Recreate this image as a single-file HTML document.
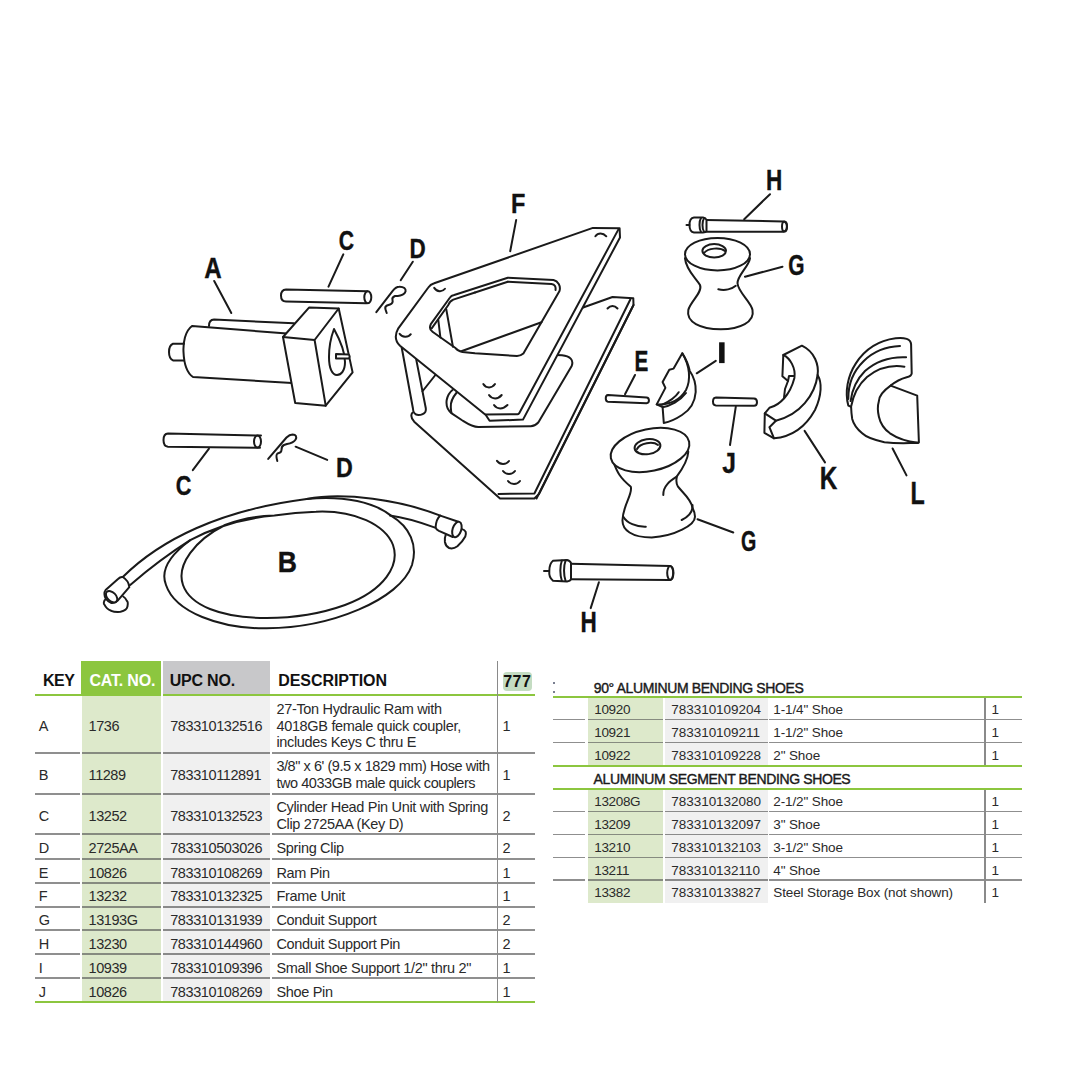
<!DOCTYPE html>
<html><head><meta charset="utf-8"><style>
html,body{margin:0;padding:0;background:#fff;}
body{width:1080px;height:1080px;position:relative;overflow:hidden;font-family:"Liberation Sans",sans-serif;}
div{position:absolute;}
.t{white-space:nowrap;}
svg{position:absolute;left:0;top:0;}
</style></head><body>
<svg width="1080" height="650" viewBox="0 0 1080 650">
<g fill="none" stroke="#1a1a1a" stroke-width="2" stroke-linejoin="round" stroke-linecap="round">
<line x1="214.2" y1="281" x2="231.3" y2="313"/>
<line x1="343.3" y1="254.3" x2="328.5" y2="286.7"/>
<line x1="412.8" y1="261.7" x2="400.7" y2="280.2"/>
<line x1="516.2" y1="219.9" x2="510.2" y2="251.2"/>
<line x1="770" y1="194.2" x2="744.2" y2="219.2"/>
<line x1="782.5" y1="266.7" x2="745" y2="276.7"/>
<line x1="635" y1="375" x2="625" y2="394.2"/>
<line x1="715.8" y1="360.8" x2="696.7" y2="373.3"/>
<line x1="735.8" y1="406.7" x2="730" y2="445"/>
<line x1="804.6" y1="430.9" x2="825" y2="462.4"/>
<line x1="892.6" y1="448.5" x2="906.5" y2="475.4"/>
<line x1="697.5" y1="519.2" x2="733.3" y2="532.5"/>
<line x1="598.9" y1="582.2" x2="590.7" y2="608.1"/>
<line x1="209" y1="448.7" x2="192.8" y2="470.1"/>
<line x1="295.6" y1="446.7" x2="327.2" y2="459.9"/>
<path d="M 122.8,577 C 160,540 220,510 306.7,498.9 C 345,495 375,503 391,515.6 C 410,527 418,545 412,565 C 400,600 330,628 266.7,628.3 C 220,629 175,612 166,585 C 160,570 170,555 190.2,540.2" fill="none"/>
<path d="M 130.2,584.9 C 150,568 170,553 190.2,540.2 C 215,527 245,518 274.4,515.6 C 290,513 300,512 316,511.7 C 355,510 385,525 393,545 C 400,565 385,590 345,605 C 320,614 290,618 266.7,618 C 220,618 190,605 183,585 C 176,565 195,540 225,525 C 240,519 258,516 274.4,515.6" fill="none"/>
<path d="M 306.7,498.9 C 345,492 400,500 440.3,515.6" fill="none"/>
<path d="M 390,515.6 C 408,518 422,523 435.2,527.7" fill="none"/>
<path d="M 122.8,577 C 121,576.5 120,577 118,579 L 105.6,590 C 104,592 104,596 106,599 C 109,603 113,605 118.1,600.2 L 129.3,587.2 C 129,583 126,579 122.8,577 Z" fill="#fff"/>
<ellipse cx="111.6" cy="596.7" rx="6.8" ry="4.3" transform="rotate(45 111.6 596.7)" fill="#fff"/>
<path d="M 105.6,599.3 C 103.5,601 103.5,604 104.3,604.4 C 106,608 109,610 111.2,610.8 C 114,612 118,612 120.5,611.8 C 124,611 127,609 127.4,606.7 C 128,604 128,602 127,601.1 C 126,599 125,597.5 123.2,596.5" fill="none"/>
<path d="M 440.3,515.6 C 437.5,518 436,522 435.6,527.2 C 436,529 437,530 438.9,530.9 L 452.8,537 L 458.3,521.7 Z" fill="#fff"/>
<ellipse cx="456.9" cy="529.5" rx="4.3" ry="8" transform="rotate(18 456.9 529.5)" fill="#fff"/>
<path d="M 445.8,534.6 C 444.8,537 444.6,540 444.9,542 C 445.5,545 447,547 449.1,548 C 452,549 455,548 457.4,546.2 C 461,543 464,539 465.3,536.5 C 466,534.5 466,533 465.7,531.9 C 465,530.5 463.5,529.5 462,529.1" fill="none"/>
<path d="M 294,323.3 L 214,319.6 C 210,319.8 209,322 209,326" fill="none"/>
<path d="M 287,333.5 L 192,326 C 185,331 183,343 183.5,352 C 184,364 187,373 193,377 L 292,383" fill="#fff"/>
<path d="M 184,343.7 L 173,343.7 C 169.5,345 169,349 169,352 C 169,356 170,359 173,360.4 L 184,360.4" fill="none"/>
<path d="M 283,337 L 309,307.6 L 338.7,308.5 L 352.6,372.4 L 325.7,405.7 L 295.2,403 Z" fill="#fff"/>
<path d="M 283,337 L 314.6,340 L 338.7,308.5 M 314.6,340 L 325.7,405.7" fill="none"/>
<path d="M 334,329 C 340,340 345,353 345,362 C 345,371 341,375 337,375 C 332,375 329,368 329,357 C 329,346 331,337 334,329 Z" fill="none"/>
<path d="M 336,354 L 348.5,354.5 C 350,355.5 350,357.5 348.5,358.5 L 336,358.5 Z" fill="#fff"/>
<path d="M 367.4,291.3 L 286,289.4 C 282,289.6 281,292 281,295.5 C 281,299 282,301.5 286,301.6 L 366.5,303.3" fill="none"/>
<ellipse cx="367.8" cy="297.3" rx="3.5" ry="6" transform="rotate(0 367.8 297.3)" fill="none"/>
<path d="M 376.3,312.1 L 392.7,290.8 C 395,288 397,286.7 399.2,286.7 C 404,286.5 406,289 405.6,291.3 C 405,294 401,295.9 397.8,295.9 L 395,296 C 392.5,297 392,298.5 392.5,300 C 393,302 393,303.5 390,304.5 L 387,305.5 C 385,306.5 385,308 385.5,309.5 L 386.7,313" fill="none"/>
<path d="M 261,435.6 L 168,433.4 C 164.5,433.6 163.5,436 163.5,440 C 163.5,444 164.5,446.5 168,446.7 L 260,447.8" fill="none"/>
<ellipse cx="257.5" cy="441.6" rx="3.5" ry="6" transform="rotate(0 257.5 441.6)" fill="none"/>
<path d="M 268.2,458.9 L 286.5,437.5 C 289,435 291,434.4 292.6,434.4 C 296,434.5 297,437 295.6,439.5 C 294,442 290,443.5 287,444 L 284,445 C 281.5,446 281.5,448 281.5,450 C 281.5,452 280,453 277.5,453.5 C 276,454.5 276,456.5 277.3,461" fill="none"/>
<path d="M 582.4,307.8 L 612.5,297 L 633.3,298.3 L 633.5,305 L 539,494 L 534.4,498.5 L 500,498.5 L 414.2,421.7 C 411,418 410.5,415 412.5,412.5" fill="#fff"/>
<path d="M 630.3,299.5 L 534.4,493.5 L 498.5,494" fill="none"/>
<path d="M 633.5,305 L 536.5,498.5" fill="none"/>
<path d="M 497,460.8 C 500,465 506,465 509,461" fill="none"/>
<path d="M 503,471 C 506,475 512,475 515,471" fill="none"/>
<path d="M 508,481 C 511,485 517,485 520,481" fill="none"/>
<path d="M 556,355 L 562,355.3 C 570,356 574,360 571.7,366 L 538.3,422.5 C 535,426 532,426.3 530.8,426.3 L 478.3,427 C 472,427 468,424 461.7,420 L 451.7,413.3 C 447,410 446,405 446.7,400 C 447.5,396 450,392 452.5,390" fill="#fff"/>
<path d="M 456.7,392.5 C 453,397 450.5,403 450.8,407 C 451,410 451,411.5 451.5,413" fill="none"/>
<path d="M 401.7,347.5 L 412.9,408.3 C 413,412 415,415 418.3,415 C 421,415 424,414 425.4,411.7 C 426,410.5 426,409.5 425.8,408.3 L 416.25,359.6" fill="#fff"/>
<line x1="422.5" y1="391.25" x2="435.4" y2="375"/>
<path d="M 619.6,228.3 L 620,237.5 L 523,419.6 L 489.6,420.8 L 485.8,415 L 400,345.8 C 395,341 394,336 398.3,328.3 L 428.3,287.5 C 430,285 432,284 434.2,283.3 L 592.9,227.9 Z" fill="#fff"/>
<path d="M 618.3,229.6 L 519.2,413.3 C 518.5,414 518,414.2 517.5,414.2 L 485.8,414.6" fill="none"/>
<path d="M 507.8,277.7 L 553.5,280 C 558,281 561,286 559.5,291 L 523.4,353.5 C 521,355.5 519,356 517,356 L 475,353.3 L 462.5,352 C 459,351 457,350 455.8,348.3 L 432.5,331.7 C 430,330 429,328 430.8,324.2 L 450,297.5 C 451,296 452,295.5 454.2,295 Z" fill="#fff"/>
<path d="M 475,292.5 L 453.3,299.6 C 450,301 449,303 448.3,305 L 431.7,328.3" fill="none"/>
<path d="M 507.8,281.7 L 551.5,284 C 555,284.5 556,287 555.5,290" fill="none"/>
<path d="M 507.8,281.7 L 475,292.5" fill="none"/>
<line x1="446.25" y1="309.2" x2="452.9" y2="346.7"/>
<line x1="438.3" y1="320" x2="440.4" y2="337.5"/>
<line x1="462" y1="351" x2="541.5" y2="322.2"/>
<path d="M 434.2,287.9 C 437,292 442,292.5 445,288.75" fill="none"/>
<path d="M 399.6,333.75 C 402,337.5 408,338 410.8,334.2" fill="none"/>
<path d="M 595.4,236.3 C 598,232.5 603,232.5 606.3,236.3" fill="none"/>
<path d="M 483.3,384 C 486,388.5 492,388.5 495,384" fill="none"/>
<path d="M 489,395 C 492,399.5 498,399.5 501.7,395" fill="none"/>
<path d="M 494,405 C 497,409.5 503,409.5 507.5,405" fill="none"/>
<path d="M 607.5,308.5 C 610.5,305 614.5,305 617.5,308.5" fill="none"/>
<path d="M 608,395 L 646.5,397.5 C 649.5,397.8 650,403 646.5,403.3 L 608,401.7 C 605,401.5 605,395.2 608,395 Z" fill="#fff"/>
<path d="M 716,397.5 L 754,398.5 C 758,398.7 758,405.8 754,405.8 L 716,405.5 C 712,405.3 712,397.7 716,397.5 Z" fill="#fff"/>
<path d="M 705.8,220 L 783.5,221.5 C 788,222 788,231 783.5,231.7 L 705.8,231.7" fill="none"/>
<ellipse cx="784.5" cy="226.6" rx="2.5" ry="5" transform="rotate(0 784.5 226.6)" fill="none"/>
<path d="M 694,217.5 L 703,217.5 C 705,217.8 706,218.5 706.5,220 L 706.5,231 C 706,232 705,232.5 703,232.5 L 694,232.5 C 690,232 689.5,228 689.5,225 C 689.5,223 690,218 694,217.5 Z" fill="#fff"/>
<path d="M 701,218 C 699,221 699,229 701,232" fill="none"/>
<path d="M 704,218.5 C 702,221 702,229 704,231.5" fill="none"/>
<line x1="686.5" y1="225" x2="689.5" y2="225"/>
<path d="M 570,563.7 L 670,566 C 674.5,566.5 674.5,579.5 670,580 L 570,579.3" fill="none"/>
<ellipse cx="670.2" cy="573" rx="3" ry="7" transform="rotate(0 670.2 573)" fill="none"/>
<path d="M 553,560.7 L 567,560 C 569,560.5 570.5,561.5 571,563 L 571,579 C 570.5,580.5 569,581.3 567,581.5 L 553,580.7 C 549.5,578 549,574 549.3,571.1 C 549.3,567 550,563 553,560.7 Z" fill="#fff"/>
<path d="M 561.9,560.5 C 559.8,566 559.8,575 561.9,581" fill="none"/>
<path d="M 565.6,560.5 C 563.5,566 563.5,575 565.6,581" fill="none"/>
<line x1="544" y1="571" x2="548.5" y2="571"/>
<path d="M 685,258.3 C 686,270 696,278 700,285 C 703,292 690,302 688.3,310 C 686,322 700,329 720.8,329.2 C 740,329 755,322 752.5,310 C 751,302 738,292 737.5,283.3 C 737,276 749,266 750,258.3" fill="#fff"/>
<ellipse cx="717.5" cy="254.2" rx="32.5" ry="16.25" transform="rotate(0 717.5 254.2)" fill="#fff"/>
<ellipse cx="714.2" cy="250.8" rx="11.8" ry="6.7" transform="rotate(0 714.2 250.8)" fill="none"/>
<path d="M 704,253 C 708,248 720,247 725,251" fill="none"/>
<path d="M 718.3,289.2 C 725,291 732,289 735.8,285.8" fill="none"/>
<path d="M 613.3,461.7 C 617,472 620,478 630.8,486.7 C 633,494 623,505 622.5,520 C 622,530 632,537.5 651.7,537.5 C 675,536 695,525 695,516.7 C 695,512 693,509 692.5,508 C 692,500 682,492 678,486.7 C 675,482 677,478 676.7,476.7 C 683,468 688,458 688.3,451.7" fill="#fff"/>
<ellipse cx="650" cy="450" rx="40" ry="21" transform="rotate(-12 650 450)" fill="#fff"/>
<ellipse cx="647.5" cy="446.7" rx="13" ry="7.5" transform="rotate(-8 647.5 446.7)" fill="none"/>
<path d="M 637,449 C 640,443 653,441 658,445" fill="none"/>
<path d="M 623.3,516.7 C 627,523 636,527 645.8,526.7" fill="none"/>
<path d="M 681.7,520 C 688,517 693,512 692.5,505" fill="none"/>
<path d="M 676.7,476.7 C 670,481 663,486 663.3,495" fill="none"/>
<path d="M 682.3,353.3 C 686,359 688.5,365 689.8,371 C 694,377 696,385 695.7,392 C 695,402 690,410 682,415 C 676,419 669,422 663.8,423 L 662.6,407.2 L 656.7,404.4 L 665.4,387.9 L 662.6,382 L 669.3,369.8 L 673.6,368.6 Z" fill="#fff"/>
<path d="M 682.3,353.3 C 690,366 691,380 686,390 C 680,400 670,405 656.7,404.4" fill="none"/>
<path d="M 662.6,407.2 C 670,406 680,401 686,393" fill="none"/>
<path d="M 678.7,392.2 C 675,398 668,402 661.8,404.8" fill="none"/>
<path d="M 783.3,355 L 801.9,345.7 C 815,352 819,365 817.6,375 C 822,382 822,395 815,410 C 805,428 790,437 774,438.3 L 764.4,432.8 L 764.8,413.3 L 769.4,407.8 C 780,405 790,395 794.4,378 C 796,368 790,358 783.3,355 Z" fill="#fff"/>
<path d="M 783.3,355 L 782.4,376.3 L 788,381 L 785,389 L 784,397.6" fill="none"/>
<path d="M 817.6,375 C 815,395 800,415 775.9,420.7 L 764.8,413.3" fill="none"/>
<path d="M 775.9,420.7 L 769.4,427.2 L 774,438.3" fill="none"/>
<path d="M 788,381 L 789,376 L 794,376" fill="none"/>
<path d="M 848.3,405.6 C 841,378 860,343 895.6,338.3 C 900,337.8 904,338 906.7,338.9 C 909.5,340 911,342 911.1,344.4 L 911.7,373.3 C 911.5,375.5 909.5,376.5 906.7,377.2 C 900,379 895,382 890.6,385.6 L 917.2,395.6 L 918.9,442.2 C 918.5,443 918,443 917.8,442.8 C 905,443.5 895,443.5 884.4,442.2 C 874,440 866,437 862.2,433.3 C 856,428 853,422 852.2,418.9 C 851.5,414 851.2,410 851.1,406.7 Z" fill="#fff"/>
<path d="M 900,346.1 C 872,347 848,368 848.3,398.9" fill="none"/>
<path d="M 906.1,357.2 C 890,356.5 875,362 865,371 C 857,379 852,390 850.6,401.1" fill="none"/>
<path d="M 904.4,366.7 C 890,364.5 877,369 867,377 C 858,385 853,396 851.1,406.7" fill="none"/>
<path d="M 890.6,385.6 C 883,391 879,396 878.9,401.1 C 877.5,406 877.5,411 878.9,416.7 C 880.5,424 884,429 890,433.3 C 897,438 907,441.5 917.8,442.8" fill="none"/>
</g>
<text transform="translate(204.30,277.80) scale(0.2418,0.2986)" font-family="Liberation Sans" font-weight="bold" font-size="100" fill="#111" stroke="#111" stroke-width="0.35" vector-effect="non-scaling-stroke">A</text>
<text transform="translate(338.75,250.33) scale(0.2122,0.2746)" font-family="Liberation Sans" font-weight="bold" font-size="100" fill="#111" stroke="#111" stroke-width="0.35" vector-effect="non-scaling-stroke">C</text>
<text transform="translate(409.54,258.00) scale(0.2244,0.2826)" font-family="Liberation Sans" font-weight="bold" font-size="100" fill="#111" stroke="#111" stroke-width="0.35" vector-effect="non-scaling-stroke">D</text>
<text transform="translate(511.07,212.70) scale(0.2353,0.2797)" font-family="Liberation Sans" font-weight="bold" font-size="100" fill="#111" stroke="#111" stroke-width="0.35" vector-effect="non-scaling-stroke">F</text>
<text transform="translate(766.03,190.00) scale(0.2254,0.3014)" font-family="Liberation Sans" font-weight="bold" font-size="100" fill="#111" stroke="#111" stroke-width="0.35" vector-effect="non-scaling-stroke">H</text>
<text transform="translate(788.36,274.71) scale(0.2089,0.2930)" font-family="Liberation Sans" font-weight="bold" font-size="100" fill="#111" stroke="#111" stroke-width="0.35" vector-effect="non-scaling-stroke">G</text>
<text transform="translate(634.45,370.80) scale(0.2071,0.3014)" font-family="Liberation Sans" font-weight="bold" font-size="100" fill="#111" stroke="#111" stroke-width="0.35" vector-effect="non-scaling-stroke">E</text>
<text transform="translate(722.13,473.01) scale(0.2463,0.2857)" font-family="Liberation Sans" font-weight="bold" font-size="100" fill="#111" stroke="#111" stroke-width="0.35" vector-effect="non-scaling-stroke">J</text>
<text transform="translate(819.72,489.30) scale(0.2434,0.3087)" font-family="Liberation Sans" font-weight="bold" font-size="100" fill="#111" stroke="#111" stroke-width="0.35" vector-effect="non-scaling-stroke">K</text>
<text transform="translate(910.49,504.00) scale(0.2330,0.3072)" font-family="Liberation Sans" font-weight="bold" font-size="100" fill="#111" stroke="#111" stroke-width="0.35" vector-effect="non-scaling-stroke">L</text>
<text transform="translate(740.91,551.41) scale(0.1970,0.2944)" font-family="Liberation Sans" font-weight="bold" font-size="100" fill="#111" stroke="#111" stroke-width="0.35" vector-effect="non-scaling-stroke">G</text>
<text transform="translate(580.43,631.90) scale(0.2254,0.2899)" font-family="Liberation Sans" font-weight="bold" font-size="100" fill="#111" stroke="#111" stroke-width="0.35" vector-effect="non-scaling-stroke">H</text>
<text transform="translate(175.63,495.33) scale(0.2168,0.2732)" font-family="Liberation Sans" font-weight="bold" font-size="100" fill="#111" stroke="#111" stroke-width="0.35" vector-effect="non-scaling-stroke">C</text>
<text transform="translate(335.89,477.20) scale(0.2325,0.2797)" font-family="Liberation Sans" font-weight="bold" font-size="100" fill="#111" stroke="#111" stroke-width="0.35" vector-effect="non-scaling-stroke">D</text>
<text transform="translate(277.87,572.10) scale(0.2656,0.2884)" font-family="Liberation Sans" font-weight="bold" font-size="100" fill="#111" stroke="#111" stroke-width="0.35" vector-effect="non-scaling-stroke">B</text>
<rect x="719.1" y="342.3" width="5.5" height="20.8" fill="#111"/>
</svg>
<div style="left:81px;top:661px;width:80px;height:35px;background:#8cc63f;"></div><div style="left:163px;top:661px;width:107px;height:33px;background:#c8c8ca;"></div><div style="left:35px;top:694px;width:46px;height:2px;background:#8cc63f;"></div><div style="left:163px;top:694px;width:372px;height:2px;background:#8cc63f;"></div><div class="t" style="left:43px;top:672.91px;font-size:16px;line-height:16px;font-weight:bold;color:#111;letter-spacing:-0.5px;word-spacing:0px;">KEY</div><div class="t" style="left:89.5px;top:672.91px;font-size:16px;line-height:16px;font-weight:bold;color:#fff;letter-spacing:-0.2px;word-spacing:0px;">CAT. NO.</div><div class="t" style="left:169.7px;top:672.91px;font-size:16px;line-height:16px;font-weight:bold;color:#111;letter-spacing:-0.2px;word-spacing:0px;">UPC NO.</div><div class="t" style="left:278.2px;top:672.91px;font-size:16px;line-height:16px;font-weight:bold;color:#111;letter-spacing:-0.05px;word-spacing:0px;">DESCRIPTION</div><div style="left:503px;top:672px;width:29px;height:19px;background:#c4dcc2;border-radius:4px"></div><div class="t" style="left:503.3px;top:674.11px;font-size:16px;line-height:16px;font-weight:bold;color:#111;letter-spacing:0.4px;word-spacing:0px;">777</div><div style="left:82px;top:696px;width:79px;height:306px;background:#dde9cb;"></div><div style="left:163px;top:696px;width:107px;height:306px;background:#f0f0f0;"></div><div style="left:35px;top:752px;width:45px;height:2px;background:#8f8f8f;"></div><div style="left:82px;top:752px;width:79px;height:2px;background:#868b80;"></div><div style="left:163px;top:752px;width:107px;height:2px;background:#8a8a8a;"></div><div style="left:272px;top:752px;width:263px;height:2px;background:#8f8f8f;"></div><div style="left:35px;top:792.5px;width:45px;height:2px;background:#8f8f8f;"></div><div style="left:82px;top:792.5px;width:79px;height:2px;background:#868b80;"></div><div style="left:163px;top:792.5px;width:107px;height:2px;background:#8a8a8a;"></div><div style="left:272px;top:792.5px;width:263px;height:2px;background:#8f8f8f;"></div><div style="left:35px;top:833.4px;width:45px;height:2px;background:#8f8f8f;"></div><div style="left:82px;top:833.4px;width:79px;height:2px;background:#868b80;"></div><div style="left:163px;top:833.4px;width:107px;height:2px;background:#8a8a8a;"></div><div style="left:272px;top:833.4px;width:263px;height:2px;background:#8f8f8f;"></div><div style="left:35px;top:857.5px;width:45px;height:2px;background:#8f8f8f;"></div><div style="left:82px;top:857.5px;width:79px;height:2px;background:#868b80;"></div><div style="left:163px;top:857.5px;width:107px;height:2px;background:#8a8a8a;"></div><div style="left:272px;top:857.5px;width:263px;height:2px;background:#8f8f8f;"></div><div style="left:35px;top:881.6px;width:45px;height:2px;background:#8f8f8f;"></div><div style="left:82px;top:881.6px;width:79px;height:2px;background:#868b80;"></div><div style="left:163px;top:881.6px;width:107px;height:2px;background:#8a8a8a;"></div><div style="left:272px;top:881.6px;width:263px;height:2px;background:#8f8f8f;"></div><div style="left:35px;top:905.5px;width:45px;height:2px;background:#8f8f8f;"></div><div style="left:82px;top:905.5px;width:79px;height:2px;background:#868b80;"></div><div style="left:163px;top:905.5px;width:107px;height:2px;background:#8a8a8a;"></div><div style="left:272px;top:905.5px;width:263px;height:2px;background:#8f8f8f;"></div><div style="left:35px;top:929.2px;width:45px;height:2px;background:#8f8f8f;"></div><div style="left:82px;top:929.2px;width:79px;height:2px;background:#868b80;"></div><div style="left:163px;top:929.2px;width:107px;height:2px;background:#8a8a8a;"></div><div style="left:272px;top:929.2px;width:263px;height:2px;background:#8f8f8f;"></div><div style="left:35px;top:953.3px;width:45px;height:2px;background:#8f8f8f;"></div><div style="left:82px;top:953.3px;width:79px;height:2px;background:#868b80;"></div><div style="left:163px;top:953.3px;width:107px;height:2px;background:#8a8a8a;"></div><div style="left:272px;top:953.3px;width:263px;height:2px;background:#8f8f8f;"></div><div style="left:35px;top:977.1px;width:45px;height:2px;background:#8f8f8f;"></div><div style="left:82px;top:977.1px;width:79px;height:2px;background:#868b80;"></div><div style="left:163px;top:977.1px;width:107px;height:2px;background:#8a8a8a;"></div><div style="left:272px;top:977.1px;width:263px;height:2px;background:#8f8f8f;"></div><div style="left:35px;top:1001px;width:500px;height:2px;background:#8cc63f;"></div><div style="left:496.5px;top:661px;width:1.5px;height:341px;background:#8a8a8a;"></div><div class="t" style="left:38.8px;top:718.71px;font-size:14.5px;line-height:14.5px;font-weight:normal;color:#2a2a2a;letter-spacing:0px;word-spacing:0px;">A</div><div class="t" style="left:88.6px;top:718.71px;font-size:14.5px;line-height:14.5px;font-weight:normal;color:#2a2a2a;letter-spacing:-0.45px;word-spacing:0px;">1736</div><div class="t" style="left:170.2px;top:718.71px;font-size:14.5px;line-height:14.5px;font-weight:normal;color:#2a2a2a;letter-spacing:-0.4px;word-spacing:0px;">783310132516</div><div class="t" style="left:276.4px;top:702.01px;font-size:14.5px;line-height:14.5px;font-weight:normal;color:#2a2a2a;letter-spacing:-0.32px;word-spacing:0px;">27-Ton Hydraulic Ram with</div><div class="t" style="left:276.4px;top:718.71px;font-size:14.5px;line-height:14.5px;font-weight:normal;color:#2a2a2a;letter-spacing:-0.32px;word-spacing:0px;">4018GB female quick coupler,</div><div class="t" style="left:276.4px;top:735.41px;font-size:14.5px;line-height:14.5px;font-weight:normal;color:#2a2a2a;letter-spacing:-0.32px;word-spacing:0px;">includes Keys C thru E</div><div class="t" style="left:502.5px;top:718.71px;font-size:14.5px;line-height:14.5px;font-weight:normal;color:#2a2a2a;letter-spacing:0px;word-spacing:0px;">1</div><div class="t" style="left:38.8px;top:767.51px;font-size:14.5px;line-height:14.5px;font-weight:normal;color:#2a2a2a;letter-spacing:0px;word-spacing:0px;">B</div><div class="t" style="left:88.6px;top:767.51px;font-size:14.5px;line-height:14.5px;font-weight:normal;color:#2a2a2a;letter-spacing:-0.45px;word-spacing:0px;">11289</div><div class="t" style="left:170.2px;top:767.51px;font-size:14.5px;line-height:14.5px;font-weight:normal;color:#2a2a2a;letter-spacing:-0.4px;word-spacing:0px;">783310112891</div><div class="t" style="left:276.4px;top:759.16px;font-size:14.5px;line-height:14.5px;font-weight:normal;color:#2a2a2a;letter-spacing:-0.44px;word-spacing:0px;">3/8&quot; x 6' (9.5 x 1829 mm) Hose with</div><div class="t" style="left:276.4px;top:775.86px;font-size:14.5px;line-height:14.5px;font-weight:normal;color:#2a2a2a;letter-spacing:-0.44px;word-spacing:0px;">two 4033GB male quick couplers</div><div class="t" style="left:502.5px;top:767.51px;font-size:14.5px;line-height:14.5px;font-weight:normal;color:#2a2a2a;letter-spacing:0px;word-spacing:0px;">1</div><div class="t" style="left:38.8px;top:808.51px;font-size:14.5px;line-height:14.5px;font-weight:normal;color:#2a2a2a;letter-spacing:0px;word-spacing:0px;">C</div><div class="t" style="left:88.6px;top:808.51px;font-size:14.5px;line-height:14.5px;font-weight:normal;color:#2a2a2a;letter-spacing:-0.45px;word-spacing:0px;">13252</div><div class="t" style="left:170.2px;top:808.51px;font-size:14.5px;line-height:14.5px;font-weight:normal;color:#2a2a2a;letter-spacing:-0.4px;word-spacing:0px;">783310132523</div><div class="t" style="left:276.4px;top:800.16px;font-size:14.5px;line-height:14.5px;font-weight:normal;color:#2a2a2a;letter-spacing:-0.32px;word-spacing:0px;">Cylinder Head Pin Unit with Spring</div><div class="t" style="left:276.4px;top:816.86px;font-size:14.5px;line-height:14.5px;font-weight:normal;color:#2a2a2a;letter-spacing:-0.32px;word-spacing:0px;">Clip 2725AA (Key D)</div><div class="t" style="left:502.5px;top:808.51px;font-size:14.5px;line-height:14.5px;font-weight:normal;color:#2a2a2a;letter-spacing:0px;word-spacing:0px;">2</div><div class="t" style="left:38.8px;top:841.11px;font-size:14.5px;line-height:14.5px;font-weight:normal;color:#2a2a2a;letter-spacing:0px;word-spacing:0px;">D</div><div class="t" style="left:88.6px;top:841.11px;font-size:14.5px;line-height:14.5px;font-weight:normal;color:#2a2a2a;letter-spacing:-0.45px;word-spacing:0px;">2725AA</div><div class="t" style="left:170.2px;top:841.11px;font-size:14.5px;line-height:14.5px;font-weight:normal;color:#2a2a2a;letter-spacing:-0.4px;word-spacing:0px;">783310503026</div><div class="t" style="left:276.4px;top:841.11px;font-size:14.5px;line-height:14.5px;font-weight:normal;color:#2a2a2a;letter-spacing:-0.32px;word-spacing:0px;">Spring Clip</div><div class="t" style="left:502.5px;top:841.11px;font-size:14.5px;line-height:14.5px;font-weight:normal;color:#2a2a2a;letter-spacing:0px;word-spacing:0px;">2</div><div class="t" style="left:38.8px;top:865.61px;font-size:14.5px;line-height:14.5px;font-weight:normal;color:#2a2a2a;letter-spacing:0px;word-spacing:0px;">E</div><div class="t" style="left:88.6px;top:865.61px;font-size:14.5px;line-height:14.5px;font-weight:normal;color:#2a2a2a;letter-spacing:-0.45px;word-spacing:0px;">10826</div><div class="t" style="left:170.2px;top:865.61px;font-size:14.5px;line-height:14.5px;font-weight:normal;color:#2a2a2a;letter-spacing:-0.4px;word-spacing:0px;">783310108269</div><div class="t" style="left:276.4px;top:865.61px;font-size:14.5px;line-height:14.5px;font-weight:normal;color:#2a2a2a;letter-spacing:-0.32px;word-spacing:0px;">Ram Pin</div><div class="t" style="left:502.5px;top:865.61px;font-size:14.5px;line-height:14.5px;font-weight:normal;color:#2a2a2a;letter-spacing:0px;word-spacing:0px;">1</div><div class="t" style="left:38.8px;top:888.71px;font-size:14.5px;line-height:14.5px;font-weight:normal;color:#2a2a2a;letter-spacing:0px;word-spacing:0px;">F</div><div class="t" style="left:88.6px;top:888.71px;font-size:14.5px;line-height:14.5px;font-weight:normal;color:#2a2a2a;letter-spacing:-0.45px;word-spacing:0px;">13232</div><div class="t" style="left:170.2px;top:888.71px;font-size:14.5px;line-height:14.5px;font-weight:normal;color:#2a2a2a;letter-spacing:-0.4px;word-spacing:0px;">783310132325</div><div class="t" style="left:276.4px;top:888.71px;font-size:14.5px;line-height:14.5px;font-weight:normal;color:#2a2a2a;letter-spacing:-0.32px;word-spacing:0px;">Frame Unit</div><div class="t" style="left:502.5px;top:888.71px;font-size:14.5px;line-height:14.5px;font-weight:normal;color:#2a2a2a;letter-spacing:0px;word-spacing:0px;">1</div><div class="t" style="left:38.8px;top:912.81px;font-size:14.5px;line-height:14.5px;font-weight:normal;color:#2a2a2a;letter-spacing:0px;word-spacing:0px;">G</div><div class="t" style="left:88.6px;top:912.81px;font-size:14.5px;line-height:14.5px;font-weight:normal;color:#2a2a2a;letter-spacing:-0.45px;word-spacing:0px;">13193G</div><div class="t" style="left:170.2px;top:912.81px;font-size:14.5px;line-height:14.5px;font-weight:normal;color:#2a2a2a;letter-spacing:-0.4px;word-spacing:0px;">783310131939</div><div class="t" style="left:276.4px;top:912.81px;font-size:14.5px;line-height:14.5px;font-weight:normal;color:#2a2a2a;letter-spacing:-0.32px;word-spacing:0px;">Conduit Support</div><div class="t" style="left:502.5px;top:912.81px;font-size:14.5px;line-height:14.5px;font-weight:normal;color:#2a2a2a;letter-spacing:0px;word-spacing:0px;">2</div><div class="t" style="left:38.8px;top:937.11px;font-size:14.5px;line-height:14.5px;font-weight:normal;color:#2a2a2a;letter-spacing:0px;word-spacing:0px;">H</div><div class="t" style="left:88.6px;top:937.11px;font-size:14.5px;line-height:14.5px;font-weight:normal;color:#2a2a2a;letter-spacing:-0.45px;word-spacing:0px;">13230</div><div class="t" style="left:170.2px;top:937.11px;font-size:14.5px;line-height:14.5px;font-weight:normal;color:#2a2a2a;letter-spacing:-0.4px;word-spacing:0px;">783310144960</div><div class="t" style="left:276.4px;top:937.11px;font-size:14.5px;line-height:14.5px;font-weight:normal;color:#2a2a2a;letter-spacing:-0.32px;word-spacing:0px;">Conduit Support Pin</div><div class="t" style="left:502.5px;top:937.11px;font-size:14.5px;line-height:14.5px;font-weight:normal;color:#2a2a2a;letter-spacing:0px;word-spacing:0px;">2</div><div class="t" style="left:38.8px;top:960.91px;font-size:14.5px;line-height:14.5px;font-weight:normal;color:#2a2a2a;letter-spacing:0px;word-spacing:0px;">I</div><div class="t" style="left:88.6px;top:960.91px;font-size:14.5px;line-height:14.5px;font-weight:normal;color:#2a2a2a;letter-spacing:-0.45px;word-spacing:0px;">10939</div><div class="t" style="left:170.2px;top:960.91px;font-size:14.5px;line-height:14.5px;font-weight:normal;color:#2a2a2a;letter-spacing:-0.4px;word-spacing:0px;">783310109396</div><div class="t" style="left:276.4px;top:960.91px;font-size:14.5px;line-height:14.5px;font-weight:normal;color:#2a2a2a;letter-spacing:-0.32px;word-spacing:0px;">Small Shoe Support 1/2&quot; thru 2&quot;</div><div class="t" style="left:502.5px;top:960.91px;font-size:14.5px;line-height:14.5px;font-weight:normal;color:#2a2a2a;letter-spacing:0px;word-spacing:0px;">1</div><div class="t" style="left:38.8px;top:985.21px;font-size:14.5px;line-height:14.5px;font-weight:normal;color:#2a2a2a;letter-spacing:0px;word-spacing:0px;">J</div><div class="t" style="left:88.6px;top:985.21px;font-size:14.5px;line-height:14.5px;font-weight:normal;color:#2a2a2a;letter-spacing:-0.45px;word-spacing:0px;">10826</div><div class="t" style="left:170.2px;top:985.21px;font-size:14.5px;line-height:14.5px;font-weight:normal;color:#2a2a2a;letter-spacing:-0.4px;word-spacing:0px;">783310108269</div><div class="t" style="left:276.4px;top:985.21px;font-size:14.5px;line-height:14.5px;font-weight:normal;color:#2a2a2a;letter-spacing:-0.32px;word-spacing:0px;">Shoe Pin</div><div class="t" style="left:502.5px;top:985.21px;font-size:14.5px;line-height:14.5px;font-weight:normal;color:#2a2a2a;letter-spacing:0px;word-spacing:0px;">1</div><div style="left:553px;top:682.3px;width:1.5px;height:1.8px;background:#7a7f90;"></div><div style="left:553px;top:691.2px;width:2px;height:1.8px;background:#7a7f90;"></div><div class="t" style="left:593.8px;top:681.17px;font-size:14px;line-height:14px;font-weight:normal;color:#1a1a1a;letter-spacing:-0.38px;word-spacing:0px;-webkit-text-stroke:0.4px #1a1a1a;">90° ALUMINUM BENDING SHOES</div><div style="left:553px;top:696px;width:469px;height:2px;background:#8cc63f;"></div><div style="left:587.5px;top:698px;width:75px;height:67px;background:#dde9cb;"></div><div style="left:664.5px;top:698px;width:103px;height:67px;background:#f0f0f0;"></div><div style="left:553px;top:718.85px;width:32px;height:1.5px;background:#8f8f8f;"></div><div style="left:587.5px;top:718.85px;width:75px;height:1.5px;background:#868b80;"></div><div style="left:664.5px;top:718.85px;width:103px;height:1.5px;background:#8a8a8a;"></div><div style="left:769px;top:718.85px;width:253px;height:1.5px;background:#8f8f8f;"></div><div style="left:553px;top:741.85px;width:32px;height:1.5px;background:#8f8f8f;"></div><div style="left:587.5px;top:741.85px;width:75px;height:1.5px;background:#868b80;"></div><div style="left:664.5px;top:741.85px;width:103px;height:1.5px;background:#8a8a8a;"></div><div style="left:769px;top:741.85px;width:253px;height:1.5px;background:#8f8f8f;"></div><div style="left:553px;top:764.6px;width:469px;height:2px;background:#8cc63f;"></div><div class="t" style="left:593.6px;top:771.87px;font-size:14px;line-height:14px;font-weight:normal;color:#1a1a1a;letter-spacing:-0.38px;word-spacing:0px;-webkit-text-stroke:0.4px #1a1a1a;">ALUMINUM SEGMENT BENDING SHOES</div><div style="left:553px;top:787.5px;width:469px;height:2px;background:#8cc63f;"></div><div style="left:587.5px;top:789.5px;width:75px;height:113.5px;background:#dde9cb;"></div><div style="left:664.5px;top:789.5px;width:103px;height:113.5px;background:#f0f0f0;"></div><div style="left:553px;top:810.75px;width:32px;height:1.5px;background:#8f8f8f;"></div><div style="left:587.5px;top:810.75px;width:75px;height:1.5px;background:#868b80;"></div><div style="left:664.5px;top:810.75px;width:103px;height:1.5px;background:#8a8a8a;"></div><div style="left:769px;top:810.75px;width:253px;height:1.5px;background:#8f8f8f;"></div><div style="left:553px;top:833.65px;width:32px;height:1.5px;background:#8f8f8f;"></div><div style="left:587.5px;top:833.65px;width:75px;height:1.5px;background:#868b80;"></div><div style="left:664.5px;top:833.65px;width:103px;height:1.5px;background:#8a8a8a;"></div><div style="left:769px;top:833.65px;width:253px;height:1.5px;background:#8f8f8f;"></div><div style="left:553px;top:856.65px;width:32px;height:1.5px;background:#8f8f8f;"></div><div style="left:587.5px;top:856.65px;width:75px;height:1.5px;background:#868b80;"></div><div style="left:664.5px;top:856.65px;width:103px;height:1.5px;background:#8a8a8a;"></div><div style="left:769px;top:856.65px;width:253px;height:1.5px;background:#8f8f8f;"></div><div style="left:553px;top:879.45px;width:32px;height:1.5px;background:#8f8f8f;"></div><div style="left:587.5px;top:879.45px;width:75px;height:1.5px;background:#868b80;"></div><div style="left:664.5px;top:879.45px;width:103px;height:1.5px;background:#8a8a8a;"></div><div style="left:769px;top:879.45px;width:253px;height:1.5px;background:#8f8f8f;"></div><div style="left:984.3px;top:698px;width:1.5px;height:67px;background:#8a8a8a;"></div><div style="left:984.3px;top:789.5px;width:1.5px;height:113.5px;background:#8a8a8a;"></div><div class="t" style="left:594.3px;top:703.44px;font-size:13.5px;line-height:13.5px;font-weight:normal;color:#2a2a2a;letter-spacing:-0.35px;word-spacing:0px;">10920</div><div class="t" style="left:671.2px;top:703.44px;font-size:13.5px;line-height:13.5px;font-weight:normal;color:#2a2a2a;letter-spacing:-0.02px;word-spacing:0px;">783310109204</div><div class="t" style="left:773.3px;top:703.44px;font-size:13.5px;line-height:13.5px;font-weight:normal;color:#2a2a2a;letter-spacing:-0.12px;word-spacing:0px;">1-1/4&quot; Shoe</div><div class="t" style="left:991.5px;top:703.44px;font-size:13.5px;line-height:13.5px;font-weight:normal;color:#2a2a2a;letter-spacing:0px;word-spacing:0px;">1</div><div class="t" style="left:594.3px;top:726.44px;font-size:13.5px;line-height:13.5px;font-weight:normal;color:#2a2a2a;letter-spacing:-0.35px;word-spacing:0px;">10921</div><div class="t" style="left:671.2px;top:726.44px;font-size:13.5px;line-height:13.5px;font-weight:normal;color:#2a2a2a;letter-spacing:-0.02px;word-spacing:0px;">783310109211</div><div class="t" style="left:773.3px;top:726.44px;font-size:13.5px;line-height:13.5px;font-weight:normal;color:#2a2a2a;letter-spacing:-0.12px;word-spacing:0px;">1-1/2&quot; Shoe</div><div class="t" style="left:991.5px;top:726.44px;font-size:13.5px;line-height:13.5px;font-weight:normal;color:#2a2a2a;letter-spacing:0px;word-spacing:0px;">1</div><div class="t" style="left:594.3px;top:749.44px;font-size:13.5px;line-height:13.5px;font-weight:normal;color:#2a2a2a;letter-spacing:-0.35px;word-spacing:0px;">10922</div><div class="t" style="left:671.2px;top:749.44px;font-size:13.5px;line-height:13.5px;font-weight:normal;color:#2a2a2a;letter-spacing:-0.02px;word-spacing:0px;">783310109228</div><div class="t" style="left:773.3px;top:749.44px;font-size:13.5px;line-height:13.5px;font-weight:normal;color:#2a2a2a;letter-spacing:-0.12px;word-spacing:0px;">2&quot; Shoe</div><div class="t" style="left:991.5px;top:749.44px;font-size:13.5px;line-height:13.5px;font-weight:normal;color:#2a2a2a;letter-spacing:0px;word-spacing:0px;">1</div><div class="t" style="left:594.3px;top:795.04px;font-size:13.5px;line-height:13.5px;font-weight:normal;color:#2a2a2a;letter-spacing:-0.35px;word-spacing:0px;">13208G</div><div class="t" style="left:671.2px;top:795.04px;font-size:13.5px;line-height:13.5px;font-weight:normal;color:#2a2a2a;letter-spacing:-0.02px;word-spacing:0px;">783310132080</div><div class="t" style="left:773.3px;top:795.04px;font-size:13.5px;line-height:13.5px;font-weight:normal;color:#2a2a2a;letter-spacing:-0.12px;word-spacing:0px;">2-1/2&quot; Shoe</div><div class="t" style="left:991.5px;top:795.04px;font-size:13.5px;line-height:13.5px;font-weight:normal;color:#2a2a2a;letter-spacing:0px;word-spacing:0px;">1</div><div class="t" style="left:594.3px;top:818.04px;font-size:13.5px;line-height:13.5px;font-weight:normal;color:#2a2a2a;letter-spacing:-0.35px;word-spacing:0px;">13209</div><div class="t" style="left:671.2px;top:818.04px;font-size:13.5px;line-height:13.5px;font-weight:normal;color:#2a2a2a;letter-spacing:-0.02px;word-spacing:0px;">783310132097</div><div class="t" style="left:773.3px;top:818.04px;font-size:13.5px;line-height:13.5px;font-weight:normal;color:#2a2a2a;letter-spacing:-0.12px;word-spacing:0px;">3&quot; Shoe</div><div class="t" style="left:991.5px;top:818.04px;font-size:13.5px;line-height:13.5px;font-weight:normal;color:#2a2a2a;letter-spacing:0px;word-spacing:0px;">1</div><div class="t" style="left:594.3px;top:841.04px;font-size:13.5px;line-height:13.5px;font-weight:normal;color:#2a2a2a;letter-spacing:-0.35px;word-spacing:0px;">13210</div><div class="t" style="left:671.2px;top:841.04px;font-size:13.5px;line-height:13.5px;font-weight:normal;color:#2a2a2a;letter-spacing:-0.02px;word-spacing:0px;">783310132103</div><div class="t" style="left:773.3px;top:841.04px;font-size:13.5px;line-height:13.5px;font-weight:normal;color:#2a2a2a;letter-spacing:-0.12px;word-spacing:0px;">3-1/2&quot; Shoe</div><div class="t" style="left:991.5px;top:841.04px;font-size:13.5px;line-height:13.5px;font-weight:normal;color:#2a2a2a;letter-spacing:0px;word-spacing:0px;">1</div><div class="t" style="left:594.3px;top:864.04px;font-size:13.5px;line-height:13.5px;font-weight:normal;color:#2a2a2a;letter-spacing:-0.35px;word-spacing:0px;">13211</div><div class="t" style="left:671.2px;top:864.04px;font-size:13.5px;line-height:13.5px;font-weight:normal;color:#2a2a2a;letter-spacing:-0.02px;word-spacing:0px;">783310132110</div><div class="t" style="left:773.3px;top:864.04px;font-size:13.5px;line-height:13.5px;font-weight:normal;color:#2a2a2a;letter-spacing:-0.12px;word-spacing:0px;">4&quot; Shoe</div><div class="t" style="left:991.5px;top:864.04px;font-size:13.5px;line-height:13.5px;font-weight:normal;color:#2a2a2a;letter-spacing:0px;word-spacing:0px;">1</div><div class="t" style="left:594.3px;top:886.34px;font-size:13.5px;line-height:13.5px;font-weight:normal;color:#2a2a2a;letter-spacing:-0.35px;word-spacing:0px;">13382</div><div class="t" style="left:671.2px;top:886.34px;font-size:13.5px;line-height:13.5px;font-weight:normal;color:#2a2a2a;letter-spacing:-0.02px;word-spacing:0px;">783310133827</div><div class="t" style="left:773.3px;top:886.34px;font-size:13.5px;line-height:13.5px;font-weight:normal;color:#2a2a2a;letter-spacing:-0.12px;word-spacing:0px;">Steel Storage Box (not shown)</div><div class="t" style="left:991.5px;top:886.34px;font-size:13.5px;line-height:13.5px;font-weight:normal;color:#2a2a2a;letter-spacing:0px;word-spacing:0px;">1</div>
</body></html>
